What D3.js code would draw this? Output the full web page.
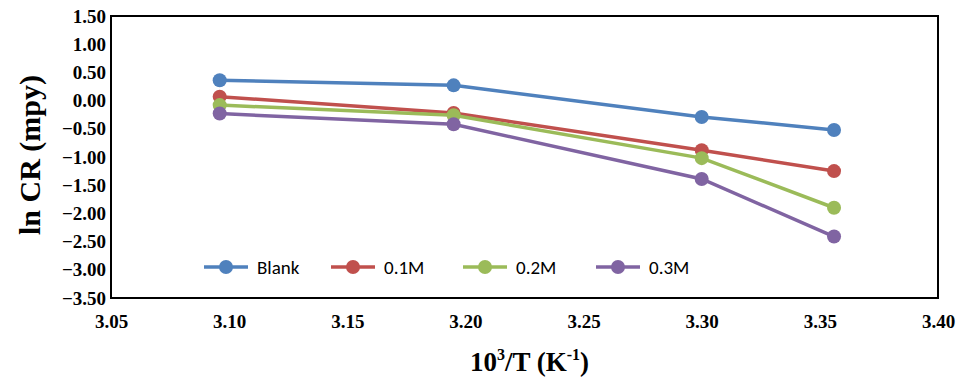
<!DOCTYPE html>
<html>
<head>
<meta charset="utf-8">
<script src="https://cdn.jsdelivr.net/npm/d3@7"></script>
<style>
  body { margin: 0; background: #fff; }
  .tick text { font-family: "Liberation Serif", "Times New Roman", serif; font-weight: bold; font-size: 19px; fill: #000; }
</style>
</head>
<body>
<div id="vis-container"></div>
<script>
// Data: x = 10^3/T, y = ln CR
var xValues = [3.096, 3.195, 3.300, 3.356];
var seriesNames = ["Blank", "0.1M", "0.2M", "0.3M"];
var blank = [0.36, 0.27, -0.29, -0.52];
var m01 = [0.07, -0.22, -0.88, -1.25];
var m02 = [-0.08, -0.26, -1.02, -1.90];
var m03 = [-0.23, -0.42, -1.39, -2.41];
var xTicks = [3.05, 3.10, 3.15, 3.20, 3.25, 3.30, 3.35, 3.40];
var yTicks = [1.5, 1.0, 0.5, 0.0, -0.5, -1.0, -1.5, -2.0, -2.5, -3.0, -3.5];
var colors = ["#4F81BD", "#C0504D", "#9BBB59", "#8064A2"];

var width = 960, height = 383;
var plot = { left: 111, right: 938, top: 16, bottom: 298 };

var svg = d3.select("#vis-container").append("svg")
    .attr("width", width).attr("height", height);

var x = d3.scaleLinear().domain([3.05, 3.40]).range([plot.left, plot.right]);
var y = d3.scaleLinear().domain([-3.5, 1.5]).range([plot.bottom, plot.top]);

// axes (labels only, no tick marks)
svg.append("g")
    .attr("transform", "translate(0," + plot.bottom + ")")
    .call(d3.axisBottom(x).tickValues(xTicks).tickFormat(d3.format(".2f")).tickSize(0).tickPadding(17))
    .call(function (g) { g.select(".domain").remove(); });

svg.append("g")
    .attr("transform", "translate(" + plot.left + ",0)")
    .call(d3.axisLeft(y).tickValues(yTicks).tickFormat(d3.format(".2f")).tickSize(0).tickPadding(5))
    .call(function (g) { g.select(".domain").remove(); });

// plot border
svg.append("rect")
    .attr("x", plot.left).attr("y", plot.top)
    .attr("width", plot.right - plot.left).attr("height", plot.bottom - plot.top)
    .attr("fill", "none").attr("stroke", "#000").attr("stroke-width", 2);

var series = [blank, m01, m02, m03].map(function (vals, i) {
    return { name: seriesNames[i], color: colors[i], points: vals.map(function (v, j) { return [xValues[j], v]; }) };
});

var line = d3.line()
    .x(function (d) { return x(d[0]); })
    .y(function (d) { return y(d[1]); });

series.forEach(function (s) {
    var g = svg.append("g");
    g.append("path")
        .datum(s.points)
        .attr("d", line)
        .attr("fill", "none")
        .attr("stroke", s.color)
        .attr("stroke-width", 3.5);
    g.selectAll("circle").data(s.points).enter().append("circle")
        .attr("cx", function (d) { return x(d[0]); })
        .attr("cy", function (d) { return y(d[1]); })
        .attr("r", 7)
        .attr("fill", s.color);
});

// legend
var legendX = [204, 331, 463, 596];
var legend = svg.append("g").attr("transform", "translate(0,267)");
series.forEach(function (s, i) {
    var lg = legend.append("g").attr("transform", "translate(" + legendX[i] + ",0)");
    lg.append("line").attr("x1", 0).attr("x2", 44).attr("y1", 0).attr("y2", 0)
        .attr("stroke", s.color).attr("stroke-width", 3.5);
    lg.append("circle").attr("cx", 22).attr("cy", 0).attr("r", 7).attr("fill", s.color);
    lg.append("text").attr("x", 53).attr("y", 0).attr("dy", "0.35em")
        .attr("font-family", "Carlito, 'Open Sans', 'Liberation Sans', sans-serif")
        .attr("font-size", 19).attr("fill", "#000")
        .text(s.name);
});

// axis titles
var xt = svg.append("text")
    .attr("x", (plot.left + plot.right) / 2 + 5).attr("y", 371)
    .attr("text-anchor", "middle")
    .attr("font-family", "'Liberation Serif', 'Times New Roman', serif")
    .attr("font-weight", "bold").attr("font-size", 27).attr("fill", "#000");
xt.append("tspan").text("10");
xt.append("tspan").attr("font-size", 16).attr("dy", -11).text("3");
xt.append("tspan").attr("dy", 11).text("/T (K");
xt.append("tspan").attr("font-size", 16).attr("dy", -11).text("-1");
xt.append("tspan").attr("dy", 11).text(")");

svg.append("text")
    .attr("transform", "translate(40," + ((plot.top + plot.bottom) / 2 - 2) + ") rotate(-90)")
    .attr("text-anchor", "middle")
    .attr("font-family", "'Liberation Serif', 'Times New Roman', serif")
    .attr("font-weight", "bold").attr("font-size", 30).attr("fill", "#000")
    .text("ln CR (mpy)");
</script>
</body>
</html>
